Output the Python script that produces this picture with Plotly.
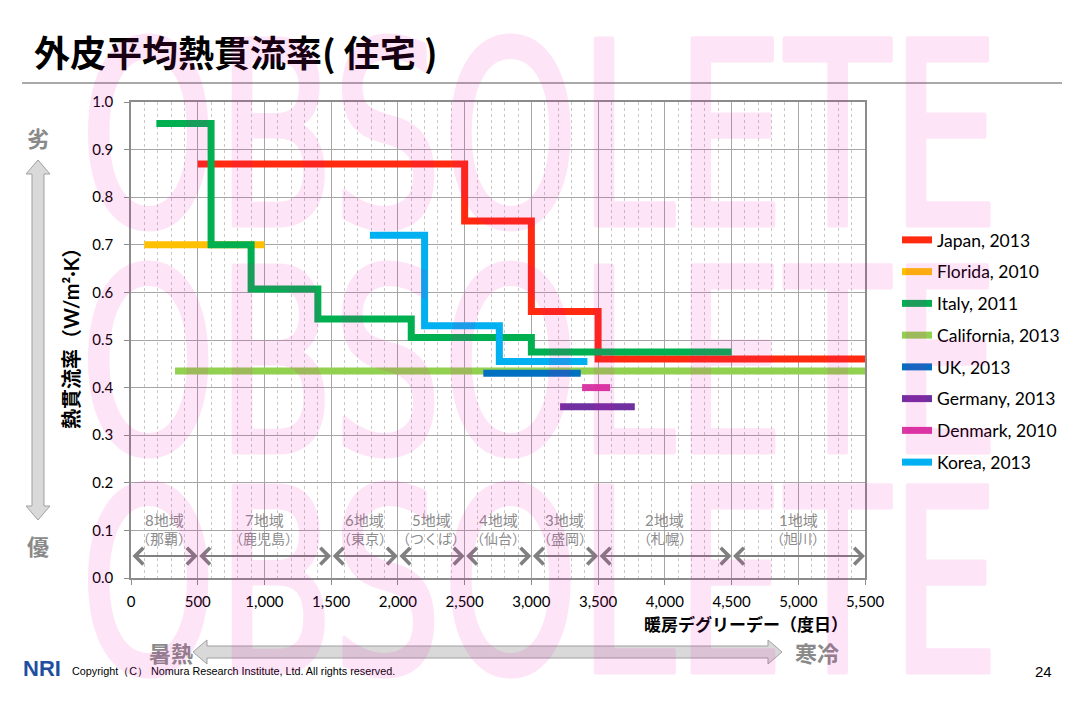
import plotly.graph_objects as go

# ---------------- data ----------------
series_names = ["Japan, 2013", "Florida, 2010", "Italy, 2011", "California, 2013",
                "UK, 2013", "Germany, 2013", "Denmark, 2010", "Korea, 2013"]
series_colors = ["#ff2a10", "#ffc000", "#00b050", "#92d050",
                 "#0070c0", "#7030a0", "#d83aa3", "#00b0f0"]

japan_x = [500, 2500, 3000, 3500, 5500]
japan_y = [0.87, 0.75, 0.56, 0.46, 0.46]
florida_x = [100, 1000]
florida_y = [0.70, 0.70]
italy_x = [190, 600, 900, 1400, 2100, 3000, 4500]
italy_y = [0.955, 0.70, 0.607, 0.544, 0.505, 0.475, 0.475]
california_x = [330, 5500]
california_y = [0.435, 0.435]
uk_x = [2640, 3370]
uk_y = [0.43, 0.43]
germany_x = [3215, 3775]
germany_y = [0.36, 0.36]
denmark_x = [3380, 3590]
denmark_y = [0.40, 0.40]
korea_x = [1790, 2200, 2760, 3420]
korea_y = [0.72, 0.53, 0.455, 0.455]

series_x = [japan_x, florida_x, italy_x, california_x, uk_x, germany_x, denmark_x, korea_x]
series_y = [japan_y, florida_y, italy_y, california_y, uk_y, germany_y, denmark_y, korea_y]

region_names = ["8地域", "7地域", "6地域", "5地域", "4地域", "3地域", "2地域", "1地域"]
region_cities = ["（那覇）", "（鹿児島）", "（東京）", "（つくば）", "（仙台）", "（盛岡）", "（札幌）", "（旭川）"]
region_bounds = [0, 500, 1500, 2000, 2500, 3000, 3500, 4500, 5500]

x_ticks = [0, 500, 1000, 1500, 2000, 2500, 3000, 3500, 4000, 4500, 5000, 5500]
y_ticks = [0.0, 0.1, 0.2, 0.3, 0.4, 0.5, 0.6, 0.7, 0.8, 0.9, 1.0]

# ---------------- layout geometry ----------------
W, H = 1082, 701
PL, PR, PT, PB = 131, 865, 102, 578


def pxx(xp):
    return (xp - PL) / (PR - PL)


def pxy(yp):
    return (PB - yp) / (PB - PT)


CJK = "Noto Sans CJK JP"
LAT = "Lato, Noto Sans CJK JP"

fig = go.Figure()
for name, color, xs, ys in zip(series_names, series_colors, series_x, series_y):
    fig.add_trace(go.Scatter(
        x=xs, y=ys, name=name, mode="lines",
        line=dict(color=color, width=7, shape="hv"),
        legendgroup=name, hoverinfo="skip",
    ))

annotations = []


def paper_text(text, xp, yp, font, xanchor="center", yanchor="middle", **kw):
    d = dict(x=pxx(xp), y=pxy(yp), xref="paper", yref="paper", text=text, showarrow=False,
             xanchor=xanchor, yanchor=yanchor, font=font)
    d.update(kw)
    annotations.append(d)


# region labels and arrows
for i, (nm, city) in enumerate(zip(region_names, region_cities)):
    x0, x1 = region_bounds[i], region_bounds[i + 1]
    xc = (x0 + x1) / 2
    annotations.append(dict(x=xc, y=0.122, xref="x", yref="y", text=nm, showarrow=False,
                            xanchor="center", yanchor="middle",
                            font=dict(family=LAT, size=15, color="#8c8c8c")))
    annotations.append(dict(x=xc, y=0.084, xref="x", yref="y", text=city, showarrow=False,
                            xanchor="center", yanchor="middle",
                            font=dict(family=CJK, size=14, color="#8c8c8c")))
    annotations.append(dict(x=x1, y=0.046, ax=x0, ay=0.046, xref="x", yref="y",
                            axref="x", ayref="y", text="", showarrow=True,
                            arrowhead=4, startarrowhead=4, arrowside="end+start",
                            arrowwidth=2, arrowsize=1.6, startarrowsize=1.6,
                            arrowcolor="#808080", standoff=0, startstandoff=0))

# title
paper_text("<b>外皮平均熱貫流率( 住宅 )</b>", 32, 51,
           dict(family=CJK, size=36, color="#000000"), xanchor="left")
# axis titles
paper_text("<b>熱貫流率（W/m²·K）</b>", 71, 334,
           dict(family=LAT, size=20, color="#000000"), textangle=-90)
paper_text("<b>暖房デグリーデー（度日）</b>", 746, 623,
           dict(family=CJK, size=17, color="#000000"))
# arrow labels
for txt, xp, yp in [("劣", 38, 137), ("優", 38, 545), ("暑熱", 171, 652), ("寒冷", 817, 652)]:
    paper_text("<b>" + txt + "</b>", xp, yp, dict(family=CJK, size=22, color="#8a8a8a"))
# footer
paper_text("<b>NRI</b>", 21, 668, dict(family="Liberation Sans", size=22, color="#1f4f9f"),
           xanchor="left")
paper_text("Copyright（C） Nomura Research Institute, Ltd. All rights reserved.", 70, 671,
           dict(family="Liberation Sans Narrow, Liberation Sans", size=10.8, color="#000000"),
           xanchor="left")
paper_text("24", 1043, 671, dict(family="Liberation Sans Narrow, Liberation Sans", size=15,
                                 color="#000000"))

# watermark rows (semi-transparent overlay)
for yc in [137, 363, 583]:
    paper_text("OBSOLETE", 83, yc,
               dict(family="DejaVu Sans", size=255, color="rgb(245,0,180)"),
               xanchor="left", opacity=0.1)


def path_from(points):
    return "M " + " L ".join(f"{pxx(a):.5f},{pxy(b):.5f}" for a, b in points) + " Z"


shapes = []
# title rule
shapes.append(dict(type="line", xref="paper", yref="paper", x0=pxx(22), x1=pxx(1062),
                   y0=pxy(83), y1=pxy(83), line=dict(color="#8c8c8c", width=1.5)))
# vertical double arrow
v_pts = [(38, 160), (50, 174), (44, 174), (44, 506), (50, 506), (38, 520), (26, 506),
         (32, 506), (32, 174), (26, 174)]
shapes.append(dict(type="path", xref="paper", yref="paper", path=path_from(v_pts),
                   fillcolor="#d9d9d9", line=dict(color="#a0a0a0", width=1)))
# horizontal double arrow
h_pts = [(193, 652), (207, 640), (207, 646), (768, 646), (768, 640), (782, 652), (768, 664),
         (768, 658), (207, 658), (207, 664)]
shapes.append(dict(type="path", xref="paper", yref="paper", path=path_from(h_pts),
                   fillcolor="#d9d9d9", line=dict(color="#a0a0a0", width=1)))

fig.update_layout(
    width=W, height=H, autosize=False,
    margin=dict(l=PL, r=W - PR, t=PT, b=H - PB, pad=0),
    paper_bgcolor="white", plot_bgcolor="white",
    showlegend=True,
    legend=dict(x=pxx(897), y=pxy(222), xanchor="left", yanchor="top",
                font=dict(family="Lato", size=17.5, color="#000000"),
                tracegroupgap=6, itemwidth=30, bgcolor="rgba(0,0,0,0)", borderwidth=0),
    annotations=annotations,
    shapes=shapes,
    xaxis=dict(range=[0, 5500], tickvals=x_ticks, tickformat=",d",
               showgrid=True, gridcolor="#a6a6a6", gridwidth=1,
               showline=True, linecolor="#8c8c8c", linewidth=1.5, mirror=True,
               ticks="outside", ticklen=5, tickcolor="#8c8c8c", ticklabelstandoff=4,
               tickfont=dict(family="Lato", size=15, color="#000000"),
               minor=dict(dtick=100, showgrid=True, gridcolor="#c8c8c8", griddash="dot", gridwidth=1),
               zeroline=False, fixedrange=True),
    yaxis=dict(range=[0, 1], tickvals=y_ticks, tickformat=".1f",
               showgrid=True, gridcolor="#a6a6a6", gridwidth=1,
               showline=True, linecolor="#8c8c8c", linewidth=1.5, mirror=True,
               ticks="outside", ticklen=5, tickcolor="#8c8c8c", ticklabelstandoff=8,
               tickfont=dict(family="Lato", size=15, color="#000000"),
               zeroline=False, fixedrange=True),
)

post_js = """
var gd = document.getElementById('{plot_id}');
function fixWM(){
  var svg = gd.querySelector('svg.main-svg');
  if(!svg) return;
  var sr = svg.getBoundingClientRect();
  gd.querySelectorAll('g.annotation').forEach(function(g){
    var t = g.querySelector('text.annotation-text');
    if(!t) return;
    if(t.textContent.trim() !== 'OBSOLETE') return;
    g.removeAttribute('transform');
    t.style.stroke = 'rgb(245,0,180)';
    t.style.strokeWidth = '5px';
    t.style.strokeLinejoin = 'round';
    var r = t.getBoundingClientRect();
    var left = r.left - sr.left;
    var L0 = 80, W0 = 920;
    var sx = W0 / r.width;
    g.setAttribute('transform', 'translate(' + (L0 - sx * left) + ',0) scale(' + sx + ',1)');
  });
}
fixWM();
if(gd.on){ gd.on('plotly_afterplot', fixWM); }
"""

fig.write_html("out.html", post_script=post_js, config={"displayModeBar": False})
